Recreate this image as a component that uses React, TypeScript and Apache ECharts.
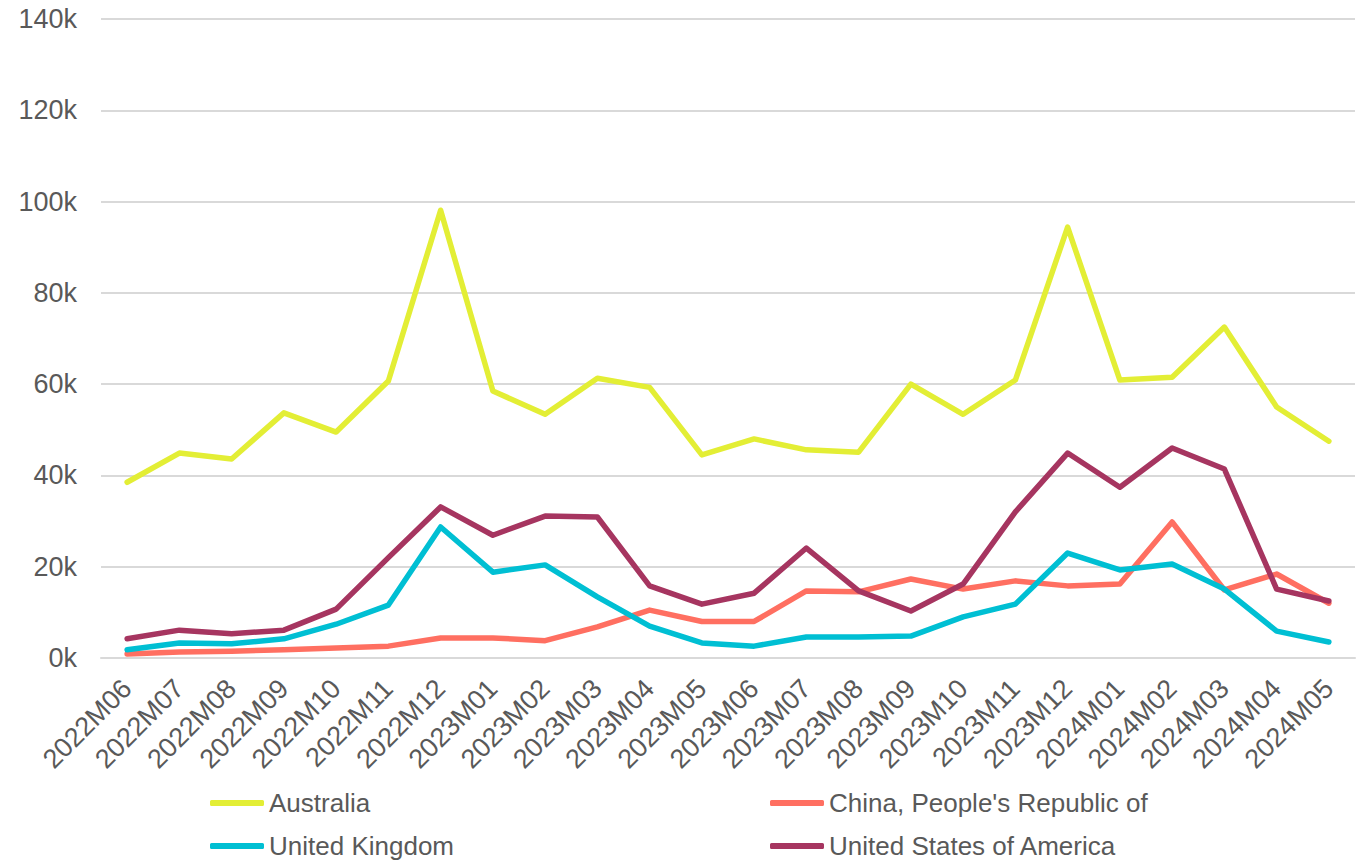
import React, { useEffect, useRef } from "react";
import * as echarts from "echarts";

const categories = [
  "2022M06", "2022M07", "2022M08", "2022M09", "2022M10", "2022M11", "2022M12",
  "2023M01", "2023M02", "2023M03", "2023M04", "2023M05", "2023M06", "2023M07",
  "2023M08", "2023M09", "2023M10", "2023M11", "2023M12", "2024M01", "2024M02",
  "2024M03", "2024M04", "2024M05",
];

const australia = [38500, 44900, 43600, 53700, 49500, 60700, 98100, 58500, 53400, 61300, 59300, 44500, 48000, 45600, 45100, 60000, 53400, 60900, 94400, 60900, 61500, 72500, 55000, 47500];
const china = [900, 1300, 1500, 1800, 2200, 2600, 4400, 4400, 3800, 6800, 10500, 8000, 8000, 14700, 14500, 17300, 15100, 16900, 15800, 16200, 29800, 14900, 18400, 12000];
const uk = [1800, 3300, 3100, 4200, 7400, 11600, 28700, 18800, 20400, 13400, 7000, 3300, 2600, 4600, 4600, 4800, 9000, 11800, 23000, 19300, 20600, 15100, 5900, 3500];
const usa = [4200, 6100, 5300, 6100, 10700, 22000, 33100, 26900, 31100, 30900, 15800, 11800, 14200, 24100, 14700, 10300, 16200, 32000, 44900, 37400, 46000, 41400, 15100, 12500];

const seriesNames = ["Australia", "China, People's Republic of", "United Kingdom", "United States of America"];
const seriesColors = ["#E3EE35", "#FF6F61", "#00BFD3", "#A63560"];
const seriesData = [australia, china, uk, usa];

const FONT = "'Liberation Sans', Arial, sans-serif";
const TEXT = "#595959";

export default function App() {
  const ref = useRef<HTMLDivElement>(null);
  useEffect(() => {
    if (!ref.current) return;
    const chart = echarts.init(ref.current, null, { renderer: "svg" });
    const legendPos = [
      { left: 210, top: 790 },
      { left: 770, top: 790 },
      { left: 210, top: 833 },
      { left: 770, top: 833 },
    ];
    chart.setOption({
      animation: false,
      backgroundColor: "#ffffff",
      grid: { left: 101, right: 8, top: 19, bottom: 203, containLabel: false },
      legend: seriesNames.map((n, i) => ({
        data: [n],
        left: legendPos[i].left,
        top: legendPos[i].top,
        orient: "horizontal",
        icon: "roundRect",
        itemWidth: 54,
        itemHeight: 6,
        padding: 0,
        selectedMode: false,
        textStyle: { fontFamily: FONT, fontSize: 26, color: TEXT, padding: [0, 0, 0, 0] },
      })),
      xAxis: {
        type: "category",
        data: categories,
        boundaryGap: true,
        axisLine: { show: true, lineStyle: { color: "#D9D9D9", width: 2 } },
        axisTick: { show: false },
        axisLabel: {
          rotate: 45,
          interval: 0,
          margin: 26,
          fontFamily: FONT,
          fontSize: 27,
          color: TEXT,
        },
      },
      yAxis: {
        type: "value",
        min: 0,
        max: 140000,
        interval: 20000,
        axisLine: { show: false },
        axisTick: { show: false },
        splitLine: { lineStyle: { color: "#D9D9D9", width: 2 } },
        axisLabel: {
          margin: 24,
          fontFamily: FONT,
          fontSize: 27,
          color: TEXT,
          formatter: (v: number) => `${v / 1000}k`,
        },
      },
      series: seriesNames.map((n, i) => ({
        name: n,
        type: "line",
        data: seriesData[i],
        showSymbol: false,
        symbol: "none",
        color: seriesColors[i],
        lineStyle: { width: 5.5, color: seriesColors[i], cap: "round", join: "round" },
      })),
    });
    return () => chart.dispose();
  }, []);
  return <div ref={ref} style={{ width: 1363, height: 861, position: "absolute", left: 0, top: 0 }} />;
}
